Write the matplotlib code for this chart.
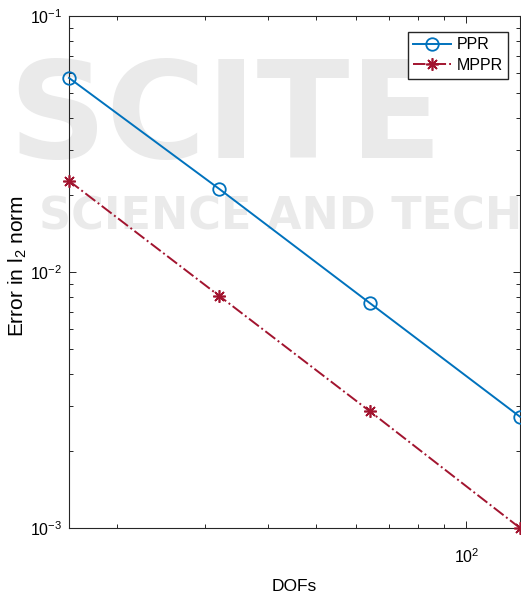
import numpy as np
import matplotlib
matplotlib.use("Agg")
import matplotlib.pyplot as plt
from matplotlib.ticker import NullFormatter, LogLocator

# === 字型設定 (MATLAB 風格) ===
plt.rcParams['font.family'] = ['Liberation Sans', 'DejaVu Sans']
plt.rcParams['mathtext.fontset'] = 'custom'
plt.rcParams['mathtext.rm'] = 'Liberation Sans'
plt.rcParams['mathtext.it'] = 'Liberation Sans:italic'

# === 資料 ===
dofs = [16, 32, 64, 128]
err_ppr = [0.0573, 0.0211, 0.00757, 0.00272]
err_mppr = [0.0227, 0.00806, 0.00286, 0.00100]
series_names = ['PPR', 'MPPR']

fig = plt.figure(figsize=(5.21, 5.97), dpi=100)
ax = fig.add_axes([69 / 521, 69 / 597, 451 / 521, 512 / 597])
ax.patch.set_alpha(0)

# 背景浮水印
wm = dict(transform=fig.transFigure, fontweight='bold', color='#eaeaea',
          zorder=0, clip_on=False, family='DejaVu Sans')
ax.text(0.015, 0.735, 'SCITE', fontsize=98, **wm)
ax.text(0.075, 0.615, 'SCIENCE AND TECH', fontsize=32, **wm)

ax.loglog(dofs, err_ppr, '-', color='#0072BD', lw=1.4, marker='o', ms=9,
          mfc='none', mew=1.3, label=series_names[0], clip_on=False, zorder=3)
ax.loglog(dofs, err_mppr, '-.', color='#A2142F', lw=1.4, marker=(8, 2, 0), ms=9,
          mew=1.2, label=series_names[1], clip_on=False, zorder=3)

ax.set_xlim(16, 128)
ax.set_ylim(1e-3, 1e-1)

ax.xaxis.set_major_locator(LogLocator(base=10))
ax.xaxis.set_minor_locator(LogLocator(base=10, subs=np.arange(2, 10)))
ax.xaxis.set_minor_formatter(NullFormatter())
ax.yaxis.set_minor_formatter(NullFormatter())

ax.tick_params(which='both', direction='in', top=True, right=True,
               labelsize=11.5, color='#262626', width=0.7)
ax.tick_params(which='major', length=5)
ax.tick_params(which='minor', length=3)
ax.tick_params(axis='x', which='major', pad=14)
ax.tick_params(axis='y', which='major', pad=5)
for s in ax.spines.values():
    s.set_color('#262626')
    s.set_linewidth(0.8)

ax.set_xlabel('DOFs', fontsize=12.5)
ax.xaxis.set_label_coords(0.5, -0.1)
ax.set_ylabel('Error in l$_2$ norm', fontsize=15)
ax.yaxis.set_label_coords(-0.088, 0.512)

ax.legend(loc='upper right', bbox_to_anchor=(0.984, 0.9785), fontsize=11.5,
          fancybox=False, framealpha=1, edgecolor='#262626',
          handlelength=2.4, handletextpad=0.3, borderpad=0.35, labelspacing=0.35,
          borderaxespad=0.3)

fig.savefig('out.png', dpi=100)
